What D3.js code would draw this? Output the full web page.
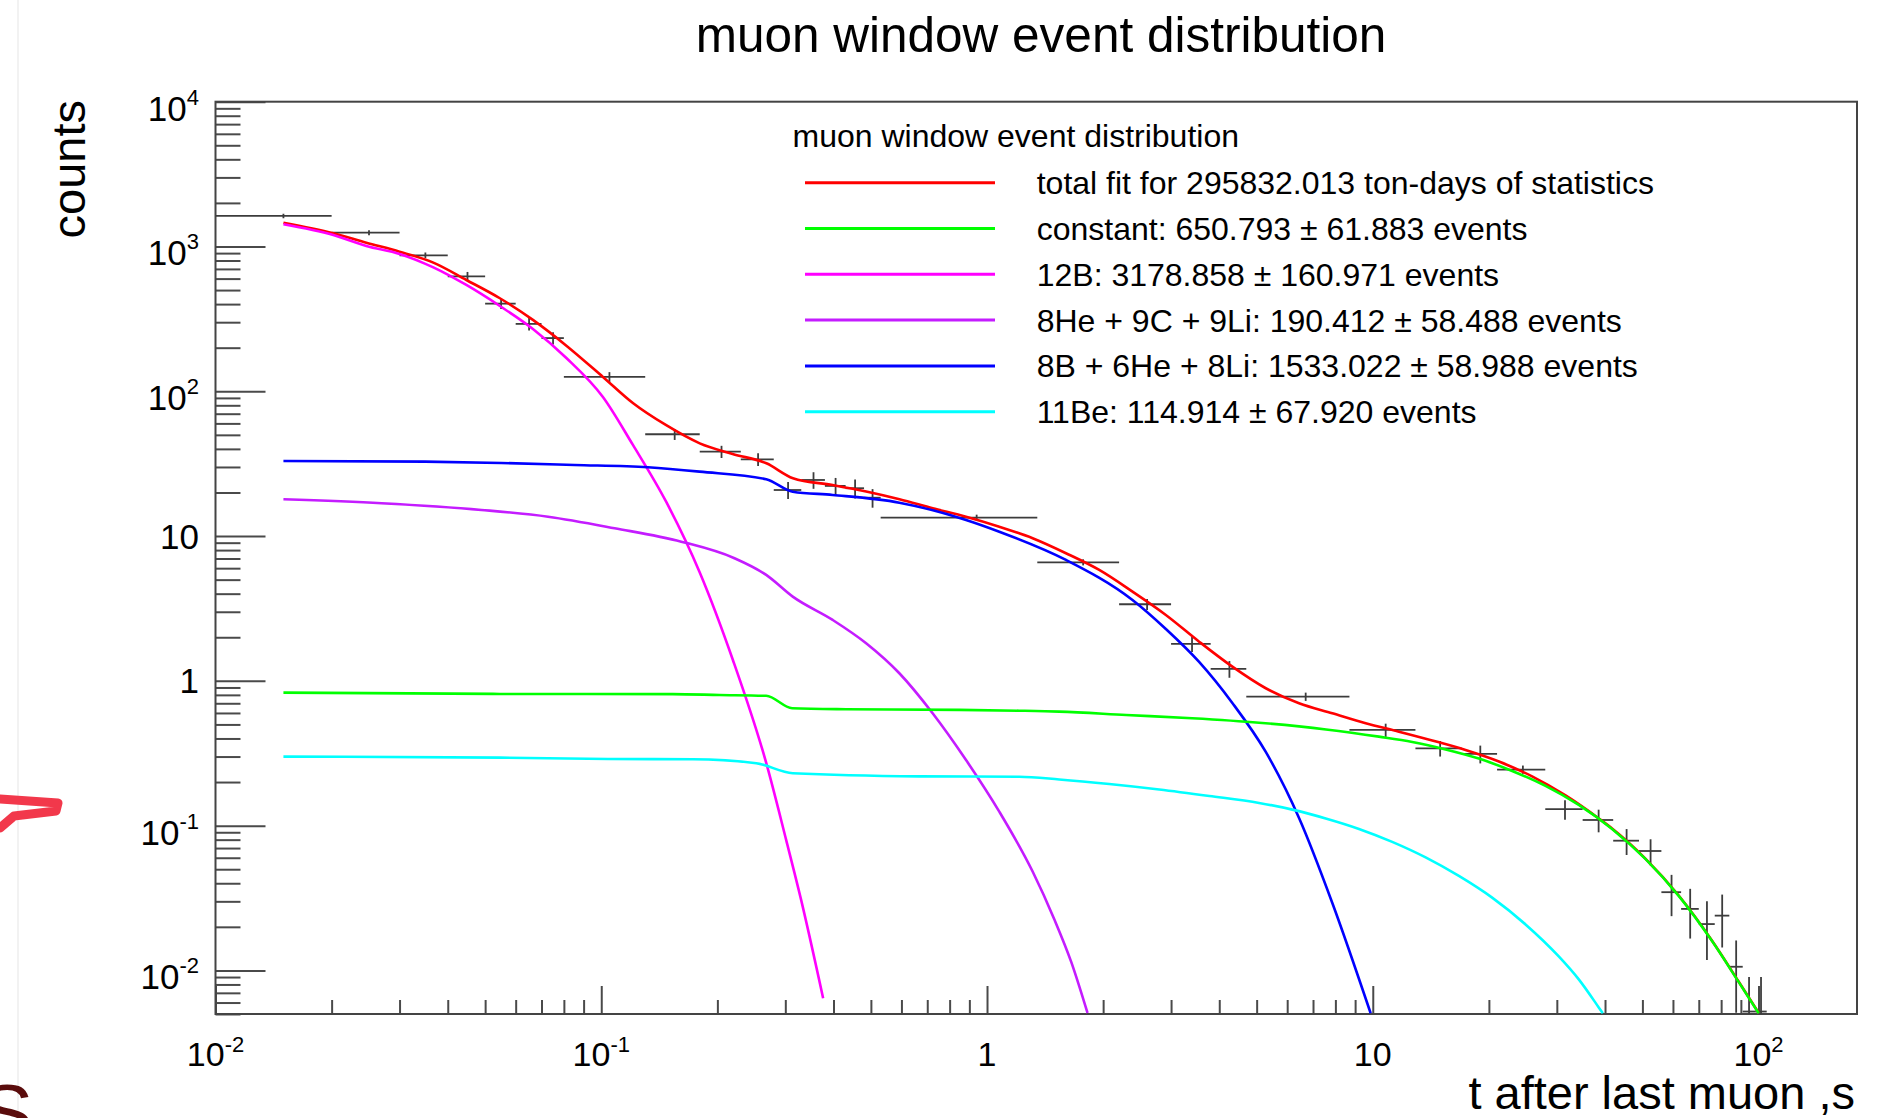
<!DOCTYPE html>
<html><head><meta charset="utf-8">
<script src="https://cdn.jsdelivr.net/npm/d3@7"></script>
<style>
html,body{margin:0;padding:0;background:#fff;}
svg{display:block;}
text{font-family:"Liberation Sans",Arial,Helvetica,sans-serif;fill:#000;}
</style></head><body>
<svg id="chart" width="1896" height="1118"></svg>
<script>
// ---------------- data ----------------
const binLow    = [0.01,0.02,0.03,0.04,0.05,0.06,0.07,0.08,0.13,0.18,0.23,0.28,0.33,0.38,0.43,0.48,0.53,1.35,2.2,3.0,3.8,4.7,8.7,12.9,17,21,28,35,42,49,56,63,70,77,84,91,98];
const binHigh   = [0.02,0.03,0.04,0.05,0.06,0.07,0.08,0.13,0.18,0.23,0.28,0.33,0.38,0.43,0.48,0.53,1.35,2.2,3.0,3.8,4.7,8.7,12.9,17,21,28,35,42,49,56,63,70,77,84,91,98,105];
const binCenter = [0.015,0.025,0.035,0.045,0.055,0.065,0.075,0.105,0.155,0.205,0.255,0.305,0.355,0.405,0.455,0.505,0.94,1.775,2.6,3.4,4.25,6.7,10.8,14.95,19,24.5,31.5,38.5,45.5,52.5,59.5,66.5,73.5,80.5,87.5,94.5,101.5];
const counts    = [1625,1245,869,622,403,292,233,125.6,50.5,38.3,33.9,20.8,24.4,22.2,21.4,18.4,13.4,6.59,3.38,1.80,1.21,0.778,0.458,0.342,0.313,0.244,0.130,0.1094,0.0787,0.0668,0.0347,0.0266,0.0209,0.0239,0.0106,0.0052,0.0052];
const countErr  = [60,50,40,45,33,29,23,10,4.4,3.7,3.4,2.8,3.2,3.0,3.2,2.7,0.65,0.32,0.30,0.22,0.16,0.051,0.048,0.042,0.044,0.016,0.020,0.0195,0.016,0.0137,0.011,0.010,0.0091,0.0095,0.0055,0.0038,0.0038];

const totalFit = [[0.015,1460],[0.0202,1234],[0.0246,1062],[0.030,921],[0.0367,773],[0.0447,587],[0.0546,439],[0.0665,311],[0.0812,206.5],[0.101,125.6],[0.121,82.6],[0.147,58.5],[0.180,43.7],[0.219,36.9],[0.268,31.8],[0.314,25.1],[0.398,22.5],[0.486,20.3],[0.593,17.95],[0.723,15.56],[0.882,13.6],[1.076,11.61],[1.313,9.66],[1.602,7.61],[1.954,5.83],[2.383,4.13],[2.908,2.85],[3.547,1.865],[4.325,1.253],[5.28,0.889],[6.44,0.700],[7.855,0.597],[9.585,0.5095],[11.69,0.4458],[14.26,0.3877],[17.40,0.3333],[21.23,0.2776],[25.88,0.2187],[31.6,0.1616],[38.53,0.1121],[41.72,0.0955],[50.9,0.0592],[62.1,0.0329],[75.7,0.0161],[88.8,0.00838],[100.1,0.00508]];
const constantFit = [[0.015,0.829],[0.0546,0.812],[0.153,0.81],[0.2025,0.799],[0.2677,0.788],[0.3126,0.647],[0.431,0.637],[0.848,0.630],[1.212,0.622],[1.539,0.613],[2.295,0.581],[3.402,0.552],[5.073,0.514],[7.566,0.4618],[10.375,0.4117],[12.66,0.3784],[15.45,0.336],[18.84,0.2904],[22.98,0.2386],[28.04,0.188],[34.2,0.139],[41.72,0.0949],[50.9,0.0589],[62.1,0.0327],[75.7,0.016],[88.8,0.00833],[100.1,0.00506]];
const b12Fit = [[0.015,1423],[0.0202,1200],[0.0246,1008],[0.030,888],[0.0367,718],[0.0447,542],[0.0546,388],[0.0665,269.3],[0.0812,169.8],[0.101,91.3],[0.1208,42.6],[0.1474,17.2],[0.1798,5.65],[0.2194,1.394],[0.2677,0.271],[0.3015,0.0797],[0.3297,0.0307],[0.376,0.00643]];
const he8c9li9Fit = [[0.015,17.95],[0.02695,16.85],[0.0489,15.15],[0.0728,13.6],[0.1083,11.32],[0.1612,9.15],[0.2215,7.03],[0.2677,5.39],[0.3136,3.815],[0.398,2.634],[0.486,1.818],[0.5926,1.128],[0.7228,0.597],[0.8823,0.2838],[1.076,0.1249],[1.313,0.0482],[1.494,0.02258],[1.653,0.01145],[1.822,0.00508]];
const b8he6li8Fit = [[0.015,33.0],[0.0349,32.65],[0.0551,31.98],[0.0853,30.97],[0.1321,29.86],[0.1798,27.85],[0.2677,24.69],[0.3136,20.26],[0.398,19.23],[0.5926,17.01],[0.8823,12.92],[1.076,10.72],[1.602,6.84],[2.383,3.62],[2.908,2.282],[3.547,1.351],[4.325,0.7036],[5.28,0.3228],[6.44,0.113],[7.855,0.02925],[9.875,0.00506]];
const be11Fit = [[0.015,0.2996],[0.0546,0.2948],[0.1041,0.2888],[0.1728,0.2875],[0.2522,0.2698],[0.3136,0.2301],[0.6678,0.219],[1.212,0.2175],[1.539,0.2085],[2.074,0.1941],[2.795,0.1778],[3.77,0.1603],[5.073,0.1435],[6.186,0.129],[7.551,0.1121],[9.21,0.0949],[11.23,0.0772],[13.71,0.0603],[16.72,0.0449],[20.39,0.0318],[24.89,0.02078],[30.35,0.01249],[34.2,0.00867],[38.53,0.00555],[39.47,0.00506]];

const xTickValues = [0.01,0.1,1,10,100];
const xTickLabels = [["10","-2"],["10","-1"],["1",""],["10",""],["10","2"]];
const yTickValues = [0.01,0.1,1,10,100,1000,10000];
const yTickLabels = [["10","-2"],["10","-1"],["1",""],["10",""],["10","2"],["10","3"],["10","4"]];

const titleText = "muon window event distribution";
const legendHeader = "muon window event distribution";
const legendLabels = [
  "total fit for 295832.013 ton-days of statistics",
  "constant: 650.793 \u00b1 61.883 events",
  "12B: 3178.858 \u00b1 160.971 events",
  "8He + 9C + 9Li: 190.412 \u00b1 58.488 events",
  "8B + 6He + 8Li: 1533.022 \u00b1 58.988 events",
  "11Be: 114.914 \u00b1 67.920 events"
];
const xTitle = "t after last muon ,s";
const yTitle = "counts";

// ---------------- layout ----------------
const W = 1896, H = 1118;
const L = 215.5, R = 1857, T = 101.7, B = 1014;
const x = d3.scaleLog().domain([0.01, 180]).range([L, R]);
const y = d3.scaleLog().domain([0.005, 10000]).range([B, T]);

const svg = d3.select("#chart");
svg.append("rect").attr("width", W).attr("height", H).attr("fill", "#fff");

// screenshot edge artefacts
svg.append("line").attr("x1", 18).attr("x2", 18).attr("y1", 0).attr("y2", H)
  .attr("stroke", "#eeeeee").attr("stroke-width", 1.5);
svg.append("path").attr("d", "M0,799 L58,803 L56,811 L14,816 L0,828")
  .attr("fill", "none").attr("stroke", "#f2384b").attr("stroke-width", 9)
  .attr("stroke-linecap", "round").attr("stroke-linejoin", "round");
svg.append("text").attr("x", -20).attr("y", 1140).attr("font-size", 80)
  .style("fill", "#5a0c0c").text("S");

svg.append("defs").append("clipPath").attr("id", "plotclip")
  .append("rect").attr("x", L).attr("y", T).attr("width", R - L).attr("height", B - T);

// ---------------- ticks (via d3 axes) ----------------
const yMinor = [];
for (let e = -3; e <= 3; e++) for (let m = 2; m <= 9; m++) {
  const v = +(m * Math.pow(10, e)).toPrecision(6);
  if (v >= 0.005 && v <= 10000) yMinor.push(v);
}
const xMinor = [];
for (let e = -2; e <= 2; e++) for (let m = 2; m <= 9; m++) {
  const v = +(m * Math.pow(10, e)).toPrecision(6);
  if (v >= 0.01 && v <= 180) xMinor.push(v);
}
function styleAxis(g) {
  g.select(".domain").remove();
  g.selectAll(".tick line").attr("stroke", "#4a4a4a").attr("stroke-width", 2);
  g.selectAll(".tick text").remove();
}
svg.append("g").attr("transform", `translate(${L},0)`)
  .call(d3.axisRight(y).tickValues(yMinor).tickSize(25).tickFormat("")).call(styleAxis);
svg.append("g").attr("transform", `translate(${L},0)`)
  .call(d3.axisRight(y).tickValues(yTickValues).tickSize(50).tickFormat("")).call(styleAxis);
svg.append("g").attr("transform", `translate(0,${B})`)
  .call(d3.axisTop(x).tickValues(xMinor).tickSize(14).tickFormat("")).call(styleAxis);
svg.append("g").attr("transform", `translate(0,${B})`)
  .call(d3.axisTop(x).tickValues(xTickValues).tickSize(28).tickFormat("")).call(styleAxis);

// frame
svg.append("rect").attr("x", L).attr("y", T).attr("width", R - L).attr("height", B - T)
  .attr("fill", "none").attr("stroke", "#444").attr("stroke-width", 2);

// ---------------- tick labels ----------------
yTickValues.forEach((v, i) => {
  const [base, ex] = yTickLabels[i];
  const t = svg.append("text").attr("x", 199).attr("text-anchor", "end").attr("font-size", 35);
  if (ex) {
    t.attr("y", y(v) + 19);
    t.append("tspan").text(base);
    t.append("tspan").attr("dy", -16).attr("font-size", 22).text(ex);
  } else {
    t.attr("y", y(v) + 12.5).text(base);
  }
});
xTickValues.forEach((v, i) => {
  const [base, ex] = xTickLabels[i];
  const t = svg.append("text").attr("x", x(v)).attr("y", 1066).attr("text-anchor", "middle").attr("font-size", 34);
  t.append("tspan").text(base);
  if (ex) t.append("tspan").attr("dy", -14).attr("font-size", 22).text(ex);
});

// ---------------- data points ----------------
const gData = svg.append("g").attr("clip-path", "url(#plotclip)")
  .attr("stroke", "#3c3c3c").attr("stroke-width", 1.8);
binCenter.forEach((c, i) => {
  const v = counts[i], e = countErr[i];
  gData.append("line").attr("x1", x(binLow[i])).attr("x2", x(binHigh[i]))
    .attr("y1", y(v)).attr("y2", y(v));
  const lo = v - e > 0 ? y(v - e) : B + 5;
  gData.append("line").attr("x1", x(c)).attr("x2", x(c))
    .attr("y1", lo).attr("y2", y(v + e));
});

// ---------------- fit curves ----------------
const line = d3.line().x(d => x(d[0])).y(d => y(d[1])).curve(d3.curveMonotoneX);
const gFit = svg.append("g").attr("clip-path", "url(#plotclip)").attr("fill", "none");
const curves = [
  [totalFit, "#ff0000"],
  [b12Fit, "#ff00ff"],
  [he8c9li9Fit, "#c41cff"],
  [b8he6li8Fit, "#0000ff"],
  [be11Fit, "#00ffff"],
  [constantFit, "#00ff00"]
];
curves.forEach(([d, col]) => {
  gFit.append("path").attr("d", line(d)).attr("stroke", col).attr("stroke-width", 2.6);
});

// ---------------- legend ----------------
const legendColors = ["#ff0000", "#00ff00", "#ff00ff", "#c41cff", "#0000ff", "#00ffff"];
svg.append("text").attr("x", 792.5).attr("y", 147).attr("font-size", 32).text(legendHeader);
legendLabels.forEach((lab, i) => {
  const ry = 182.7 + i * 45.8;
  svg.append("line").attr("x1", 805).attr("x2", 995).attr("y1", ry).attr("y2", ry)
    .attr("stroke", legendColors[i]).attr("stroke-width", 3);
  svg.append("text").attr("x", 1036.7).attr("y", ry + 11.5).attr("font-size", 32).text(lab);
});

// ---------------- titles ----------------
svg.append("text").attr("x", 1041).attr("y", 52).attr("text-anchor", "middle")
  .attr("font-size", 49.5).text(titleText);
svg.append("text").attr("transform", "translate(85,100) rotate(-90)")
  .attr("text-anchor", "end").attr("font-size", 47).text(yTitle);
svg.append("text").attr("x", 1855).attr("y", 1109).attr("text-anchor", "end")
  .attr("font-size", 47).text(xTitle);
</script>
</body></html>
